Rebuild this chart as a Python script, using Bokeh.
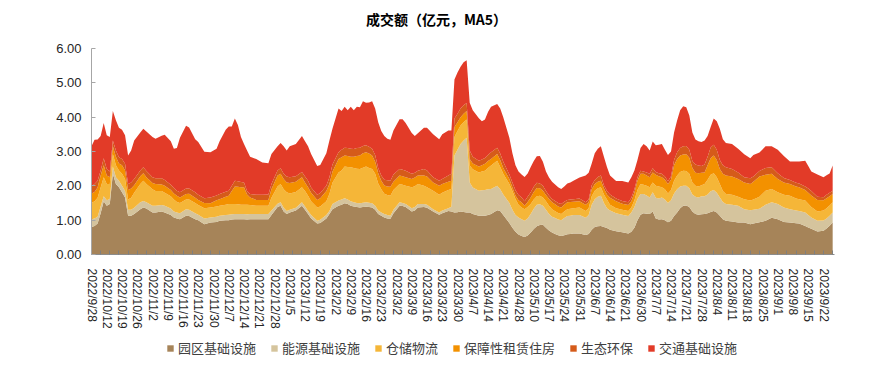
from bokeh.plotting import figure
from bokeh.layouts import column
from bokeh.models import (ColumnDataSource, FixedTicker, Range1d, Legend, LegendItem,
                          NumeralTickFormatter, Label)
from bokeh.embed import file_html
from bokeh.resources import INLINE

# ---------------- data ----------------
date_labels = ["2022/9/28", "2022/10/12", "2022/10/19", "2022/10/26", "2022/11/2", "2022/11/9",
               "2022/11/16", "2022/11/23", "2022/11/30", "2022/12/7", "2022/12/14", "2022/12/21",
               "2022/12/28", "2023/1/5", "2023/1/12", "2023/1/19", "2023/2/2", "2023/2/9",
               "2023/2/16", "2023/2/23", "2023/3/2", "2023/3/9", "2023/3/16", "2023/3/23",
               "2023/3/30", "2023/4/7", "2023/4/14", "2023/4/21", "2023/4/28", "2023/5/10",
               "2023/5/17", "2023/5/24", "2023/5/31", "2023/6/7", "2023/6/14", "2023/6/21",
               "2023/6/30", "2023/7/7", "2023/7/14", "2023/7/21", "2023/7/28", "2023/8/4",
               "2023/8/11", "2023/8/18", "2023/8/25", "2023/9/1", "2023/9/8", "2023/9/15",
               "2023/9/22"]
label_every = 5          # one label per 5 trading days
tick_every = 3           # small tick marks every 3 trading days
n_days = 244             # trading days shown

# trading-day index of each sample
day = [0, 1, 2, 3, 4, 5, 6, 7, 8, 9, 10, 11, 12, 13, 14, 16, 17, 18, 20, 21, 23, 24, 26, 27, 28, 29,
       31, 32, 34, 35, 37, 39, 41, 42, 44, 45, 46, 47, 48, 49, 50, 51, 52, 54, 56, 58, 59, 61, 62,
       63, 64, 65, 67, 69, 70, 71, 72, 74, 75, 77, 78, 79, 81, 82, 83, 84, 85, 86, 87, 88, 89, 90,
       91, 92, 93, 94, 95, 96, 97, 98, 99, 101, 102, 103, 105, 106, 107, 109, 110, 112, 114, 115,
       117, 118, 119, 120, 121, 122, 123, 124, 125, 127, 128, 129, 130, 131, 133, 134, 135, 137,
       138, 139, 140, 141, 142, 143, 144, 145, 146, 147, 148, 149, 150, 151, 152, 153, 154, 155,
       156, 157, 158, 160, 162, 163, 164, 165, 166, 167, 168, 169, 170, 172, 174, 176, 177, 178,
       179, 180, 181, 182, 183, 184, 185, 186, 187, 188, 189, 190, 191, 192, 193, 194, 195, 196,
       197, 198, 199, 200, 201, 202, 203, 204, 205, 206, 207, 208, 210, 212, 214, 216, 217, 219,
       221, 223, 225, 227, 229, 231, 232, 234, 235, 236, 238, 240, 241, 242, 243]

park = [0.80, 0.83, 0.90, 1.20, 1.55, 1.42, 1.47, 2.35, 2.05, 1.96, 1.81, 1.66, 1.13, 1.13, 1.18, 1.32,
        1.37, 1.34, 1.22, 1.22, 1.25, 1.22, 1.15, 1.08, 1.05, 1.03, 1.13, 1.12, 1.03, 1.00, 0.88, 0.93,
        0.95, 0.98, 1.00, 1.00, 1.02, 1.03, 1.03, 1.03, 1.03, 1.02, 1.03, 1.03, 1.03, 1.03, 1.15, 1.38,
        1.42, 1.25, 1.18, 1.22, 1.28, 1.42, 1.30, 1.18, 1.05, 0.90, 0.92, 1.05, 1.18, 1.32, 1.42, 1.45,
        1.49, 1.47, 1.42, 1.40, 1.38, 1.37, 1.38, 1.39, 1.38, 1.37, 1.30, 1.18, 1.13, 1.08, 1.05, 1.04,
        1.20, 1.42, 1.41, 1.38, 1.25, 1.28, 1.37, 1.38, 1.36, 1.25, 1.16, 1.20, 1.27, 1.25, 1.22, 1.23,
        1.25, 1.24, 1.22, 1.22, 1.18, 1.13, 1.13, 1.13, 1.15, 1.18, 1.29, 1.27, 1.15, 0.92, 0.78, 0.66,
        0.58, 0.54, 0.51, 0.55, 0.64, 0.74, 0.82, 0.86, 0.87, 0.78, 0.70, 0.64, 0.60, 0.56, 0.54, 0.56,
        0.59, 0.60, 0.61, 0.61, 0.57, 0.60, 0.72, 0.80, 0.82, 0.83, 0.80, 0.77, 0.72, 0.68, 0.65, 0.61,
        0.66, 0.78, 1.00, 1.16, 1.20, 1.19, 1.18, 1.25, 1.05, 1.02, 1.03, 1.00, 0.94, 0.98, 1.12, 1.22,
        1.35, 1.42, 1.43, 1.38, 1.25, 1.18, 1.16, 1.17, 1.18, 1.20, 1.24, 1.27, 1.22, 1.13, 1.03, 0.98,
        0.96, 0.93, 0.93, 0.88, 0.90, 0.94, 0.98, 1.07, 1.03, 0.95, 0.93, 0.91, 0.90, 0.83, 0.79, 0.75,
        0.67, 0.69, 0.76, 0.84, 0.93]

energy = [0.23, 0.22, 0.20, 0.20, 0.15, 0.16, 0.15, 0.21, 0.20, 0.19, 0.19, 0.19, 0.17, 0.17, 0.18, 0.20,
          0.19, 0.18, 0.20, 0.20, 0.19, 0.20, 0.19, 0.17, 0.17, 0.17, 0.19, 0.18, 0.17, 0.16, 0.17, 0.15,
          0.15, 0.15, 0.15, 0.16, 0.15, 0.15, 0.15, 0.15, 0.15, 0.15, 0.15, 0.15, 0.15, 0.15, 0.13, 0.10,
          0.10, 0.11, 0.09, 0.08, 0.08, 0.10, 0.10, 0.09, 0.10, 0.08, 0.09, 0.10, 0.09, 0.15, 0.15, 0.15,
          0.15, 0.13, 0.13, 0.12, 0.12, 0.12, 0.13, 0.13, 0.13, 0.12, 0.12, 0.10, 0.09, 0.10, 0.10, 0.09,
          0.10, 0.10, 0.09, 0.09, 0.10, 0.10, 0.10, 0.09, 0.09, 0.07, 0.06, 0.08, 0.08, 0.14, 1.66, 1.82,
          1.97, 2.08, 2.18, 0.88, 0.77, 0.73, 0.74, 0.75, 0.75, 0.73, 0.71, 0.63, 0.60, 0.58, 0.52, 0.49,
          0.50, 0.49, 0.47, 0.50, 0.54, 0.59, 0.63, 0.60, 0.55, 0.52, 0.48, 0.46, 0.46, 0.46, 0.46, 0.50,
          0.53, 0.53, 0.54, 0.54, 0.50, 0.55, 0.73, 0.81, 0.86, 0.88, 0.70, 0.58, 0.56, 0.52, 0.51, 0.51,
          0.56, 0.60, 0.62, 0.60, 0.56, 0.53, 0.48, 0.56, 0.60, 0.61, 0.63, 0.60, 0.56, 0.60, 0.66, 0.68,
          0.63, 0.58, 0.57, 0.55, 0.50, 0.50, 0.50, 0.53, 0.52, 0.55, 0.60, 0.61, 0.58, 0.53, 0.50, 0.49,
          0.49, 0.49, 0.39, 0.41, 0.40, 0.39, 0.47, 0.45, 0.44, 0.42, 0.39, 0.37, 0.37, 0.39, 0.36, 0.33,
          0.31, 0.30, 0.29, 0.29, 0.29]

logistics = [0.47, 0.50, 0.55, 0.55, 0.55, 0.47, 0.43, 0.37, 0.35, 0.30, 0.35, 0.35, 0.30, 0.35, 0.44, 0.53,
             0.59, 0.53, 0.48, 0.43, 0.41, 0.38, 0.36, 0.35, 0.31, 0.30, 0.28, 0.30, 0.30, 0.28, 0.30, 0.29,
             0.30, 0.29, 0.30, 0.31, 0.30, 0.29, 0.28, 0.27, 0.27, 0.28, 0.26, 0.24, 0.24, 0.24, 0.37, 0.50,
             0.53, 0.54, 0.54, 0.48, 0.46, 0.44, 0.45, 0.44, 0.40, 0.39, 0.39, 0.40, 0.49, 0.62, 0.82, 0.85,
             0.92, 0.95, 0.99, 1.00, 1.00, 1.00, 1.02, 1.04, 1.01, 1.00, 0.93, 0.79, 0.68, 0.59, 0.58, 0.58,
             0.58, 0.53, 0.53, 0.53, 0.61, 0.61, 0.58, 0.53, 0.51, 0.54, 0.52, 0.52, 0.53, 0.52, 0.54, 0.55,
             0.54, 0.53, 0.53, 0.49, 0.53, 0.53, 0.55, 0.56, 0.62, 0.68, 0.73, 0.65, 0.60, 0.55, 0.55, 0.47,
             0.37, 0.34, 0.34, 0.33, 0.29, 0.27, 0.25, 0.25, 0.24, 0.25, 0.24, 0.22, 0.20, 0.19, 0.18, 0.19,
             0.20, 0.20, 0.20, 0.22, 0.20, 0.20, 0.25, 0.25, 0.25, 0.25, 0.25, 0.25, 0.17, 0.15, 0.14, 0.15,
             0.15, 0.20, 0.26, 0.29, 0.27, 0.28, 0.30, 0.29, 0.35, 0.35, 0.30, 0.30, 0.28, 0.30, 0.37, 0.40,
             0.42, 0.44, 0.43, 0.42, 0.35, 0.32, 0.32, 0.32, 0.35, 0.43, 0.48, 0.49, 0.45, 0.39, 0.32, 0.29,
             0.29, 0.26, 0.29, 0.28, 0.30, 0.35, 0.41, 0.39, 0.34, 0.37, 0.39, 0.35, 0.34, 0.35, 0.33, 0.30,
             0.27, 0.29, 0.30, 0.30, 0.30]

housing = [0.28, 0.27, 0.30, 0.35, 0.35, 0.25, 0.20, 0.22, 0.25, 0.20, 0.25, 0.25, 0.28, 0.27, 0.22, 0.23,
           0.22, 0.20, 0.18, 0.20, 0.19, 0.20, 0.18, 0.18, 0.18, 0.16, 0.16, 0.17, 0.15, 0.15, 0.15, 0.12,
           0.18, 0.19, 0.23, 0.24, 0.38, 0.51, 0.51, 0.51, 0.51, 0.30, 0.22, 0.17, 0.17, 0.17, 0.25, 0.32,
           0.30, 0.30, 0.29, 0.30, 0.30, 0.29, 0.25, 0.25, 0.25, 0.22, 0.24, 0.30, 0.29, 0.32, 0.39, 0.38,
           0.32, 0.32, 0.31, 0.33, 0.37, 0.39, 0.42, 0.42, 0.42, 0.39, 0.35, 0.30, 0.25, 0.24, 0.25, 0.26,
           0.24, 0.25, 0.25, 0.25, 0.24, 0.25, 0.25, 0.30, 0.31, 0.24, 0.26, 0.25, 0.24, 0.24, 0.29, 0.25,
           0.24, 0.25, 0.25, 0.19, 0.17, 0.17, 0.18, 0.20, 0.20, 0.19, 0.20, 0.20, 0.17, 0.15, 0.10, 0.10,
           0.13, 0.15, 0.10, 0.15, 0.19, 0.22, 0.24, 0.22, 0.20, 0.18, 0.20, 0.20, 0.20, 0.19, 0.19, 0.20,
           0.20, 0.20, 0.19, 0.18, 0.18, 0.17, 0.20, 0.19, 0.19, 0.19, 0.17, 0.15, 0.20, 0.20, 0.18, 0.17,
           0.18, 0.22, 0.27, 0.30, 0.32, 0.30, 0.29, 0.29, 0.32, 0.30, 0.29, 0.28, 0.27, 0.30, 0.45, 0.48,
           0.48, 0.47, 0.49, 0.47, 0.42, 0.38, 0.39, 0.36, 0.34, 0.42, 0.48, 0.51, 0.50, 0.44, 0.50, 0.54,
           0.53, 0.52, 0.49, 0.48, 0.52, 0.59, 0.46, 0.44, 0.39, 0.36, 0.34, 0.35, 0.35, 0.31, 0.32, 0.34,
           0.34, 0.30, 0.29, 0.27, 0.24]

eco = [0.21, 0.23, 0.20, 0.15, 0.20, 0.19, 0.17, 0.17, 0.18, 0.18, 0.18, 0.19, 0.17, 0.18, 0.18, 0.17,
       0.17, 0.18, 0.17, 0.17, 0.18, 0.17, 0.15, 0.16, 0.15, 0.15, 0.16, 0.15, 0.16, 0.15, 0.14, 0.17,
       0.14, 0.15, 0.15, 0.15, 0.15, 0.17, 0.16, 0.15, 0.14, 0.10, 0.10, 0.15, 0.15, 0.16, 0.15, 0.15,
       0.16, 0.15, 0.17, 0.17, 0.16, 0.15, 0.17, 0.19, 0.15, 0.15, 0.15, 0.15, 0.20, 0.21, 0.20, 0.22,
       0.23, 0.23, 0.23, 0.22, 0.23, 0.23, 0.21, 0.20, 0.20, 0.20, 0.20, 0.15, 0.15, 0.17, 0.18, 0.18,
       0.21, 0.19, 0.19, 0.19, 0.15, 0.14, 0.14, 0.19, 0.18, 0.15, 0.15, 0.15, 0.18, 0.20, 0.25, 0.25,
       0.25, 0.25, 0.23, 0.25, 0.20, 0.17, 0.17, 0.17, 0.18, 0.20, 0.18, 0.19, 0.18, 0.13, 0.15, 0.15,
       0.15, 0.14, 0.13, 0.15, 0.15, 0.15, 0.15, 0.14, 0.14, 0.12, 0.10, 0.10, 0.10, 0.10, 0.10, 0.09,
       0.07, 0.07, 0.07, 0.08, 0.07, 0.08, 0.12, 0.12, 0.14, 0.15, 0.10, 0.10, 0.10, 0.08, 0.08, 0.08,
       0.10, 0.10, 0.10, 0.09, 0.07, 0.09, 0.10, 0.12, 0.08, 0.09, 0.10, 0.09, 0.08, 0.10, 0.15, 0.20,
       0.22, 0.24, 0.24, 0.23, 0.20, 0.24, 0.22, 0.20, 0.23, 0.25, 0.32, 0.32, 0.30, 0.26, 0.25, 0.24,
       0.22, 0.19, 0.15, 0.17, 0.15, 0.16, 0.20, 0.19, 0.17, 0.13, 0.12, 0.11, 0.11, 0.10, 0.12, 0.13,
       0.09, 0.09, 0.10, 0.10, 0.10]

transport = [1.16, 1.29, 1.20, 1.00, 1.03, 0.98, 1.00, 0.86, 0.88, 0.86, 0.85, 0.83, 0.83, 0.93, 1.12, 1.10,
             1.12, 1.15, 1.17, 1.15, 1.24, 1.32, 1.27, 1.14, 1.24, 1.59, 1.83, 1.78, 1.55, 1.54, 1.35, 1.32,
             1.36, 1.54, 1.80, 1.87, 1.73, 1.81, 1.64, 1.31, 1.12, 1.18, 1.09, 1.04, 0.94, 0.91, 0.88, 0.70,
             0.74, 0.80, 0.76, 0.90, 0.94, 1.05, 1.03, 1.00, 0.98, 0.84, 0.82, 0.95, 1.07, 1.04, 1.27, 1.13,
             1.19, 1.10, 1.22, 1.13, 1.20, 1.18, 1.30, 1.24, 1.29, 1.38, 1.35, 1.33, 1.30, 1.27, 1.21, 1.19,
             1.28, 1.45, 1.47, 1.39, 1.19, 1.07, 1.09, 1.20, 1.24, 1.25, 1.21, 1.30, 1.31, 1.26, 1.14, 1.20,
             1.22, 1.25, 1.25, 1.39, 1.35, 1.24, 1.11, 1.12, 1.25, 1.32, 1.27, 1.31, 1.30, 1.07, 0.85, 0.73,
             0.69, 0.67, 0.71, 0.68, 0.74, 0.75, 0.77, 0.80, 0.70, 0.57, 0.52, 0.50, 0.48, 0.46, 0.44, 0.44,
             0.48, 0.50, 0.54, 0.61, 0.78, 0.78, 0.63, 0.78, 0.82, 0.85, 0.83, 0.70, 0.55, 0.51, 0.58, 0.58,
             0.60, 0.55, 0.50, 0.66, 0.80, 0.76, 0.68, 0.78, 0.78, 0.83, 0.87, 0.78, 0.77, 0.72, 0.80, 0.92,
             1.10, 1.17, 1.13, 1.00, 0.83, 0.73, 0.71, 0.70, 0.70, 0.60, 0.59, 0.76, 0.83, 0.91, 0.76, 0.71,
             0.73, 0.69, 0.67, 0.58, 0.63, 0.54, 0.63, 0.61, 0.68, 0.64, 0.54, 0.62, 0.64, 0.75, 0.66, 0.57,
             0.65, 0.58, 0.57, 0.56, 0.73]

series_keys = ["park", "energy", "logistics", "housing", "eco", "transport"]
series_names = ["园区基础设施", "能源基础设施", "仓储物流", "保障性租赁住房", "生态环保", "交通基础设施"]
series_colors = ["#A68459", "#D5C49D", "#F5B638", "#F39100", "#D55B1A", "#E23B28"]
title_text = "成交额（亿元，MA5）"

source = ColumnDataSource(dict(day=day, park=park, energy=energy, logistics=logistics,
                               housing=housing, eco=eco, transport=transport))


def strip(height):
    f = figure(width=870, height=height, output_backend="svg", toolbar_location=None,
               x_axis_location=None, y_axis_location=None,
               x_range=Range1d(0, n_days - 0.4), y_range=Range1d(100, 101),
               min_border=0, min_border_left=0, min_border_right=0,
               min_border_top=0, min_border_bottom=0)
    f.outline_line_color = None
    f.xgrid.visible = False
    f.ygrid.visible = False
    f.background_fill_color = "white"
    f.border_fill_color = "white"
    return f


# ---------------- title strip ----------------
t = strip(30)
t.add_layout(Label(x=345, y=12, x_units="screen", y_units="screen", text=title_text,
                   text_align="center", text_baseline="middle", text_font="Noto Sans CJK SC",
                   text_font_style="bold", text_font_size="14px", text_color="#000000"))

# ---------------- main chart ----------------
p = figure(width=870, height=308, output_backend="svg", toolbar_location=None,
           x_range=Range1d(0, n_days - 0.4), y_range=Range1d(0, 6),
           min_border_left=91, min_border_right=36, min_border_top=18, min_border_bottom=84)
p.outline_line_color = None
p.xgrid.visible = False
p.ygrid.visible = False
p.background_fill_color = "white"
p.border_fill_color = "white"

p.varea_stack(stackers=series_keys, x="day", color=series_colors, source=source)

p.yaxis.ticker = FixedTicker(ticks=[0, 1, 2, 3, 4, 5, 6])
p.yaxis.formatter = NumeralTickFormatter(format="0.00")
p.yaxis.axis_line_color = "#A6A6A6"
p.yaxis.major_tick_line_color = "#A6A6A6"
p.yaxis.major_tick_in = 4
p.yaxis.major_tick_out = 0
p.yaxis.minor_tick_line_color = None
p.yaxis.major_label_text_font = "Liberation Sans"
p.yaxis.major_label_text_font_size = "13px"
p.yaxis.major_label_text_color = "#262626"
p.yaxis.major_label_standoff = 10

tick_pos = [i * label_every for i in range(len(date_labels))]
p.xaxis.ticker = FixedTicker(ticks=tick_pos, minor_ticks=list(range(0, n_days, tick_every)))
p.xaxis.major_label_overrides = {tp: lab for tp, lab in zip(tick_pos, date_labels)}
p.xaxis.major_label_orientation = "vertical"
p.xaxis.axis_line_color = "#8C8C8C"
p.xaxis.major_tick_line_color = None
p.xaxis.minor_tick_line_color = "#7F7F7F"
p.xaxis.minor_tick_in = 4
p.xaxis.minor_tick_out = 0
p.xaxis.major_label_text_font = "Liberation Sans"
p.xaxis.major_label_text_font_size = "12px"
p.xaxis.major_label_text_color = "#262626"
p.xaxis.major_label_standoff = 8

# ---------------- legend strip ----------------
q = strip(44)
legend_renderers = q.varea_stack(stackers=series_keys, x="day", color=series_colors, source=source)
items = [LegendItem(label=n, renderers=[r]) for n, r in zip(series_names, legend_renderers)]
legend = Legend(items=items, orientation="horizontal", location=(75, 25),
                glyph_width=8, glyph_height=8, label_standoff=4, spacing=14,
                padding=0, margin=0, border_line_color=None, background_fill_alpha=0,
                label_text_font="Noto Sans CJK SC", label_text_font_size="13px",
                label_text_color="#404040", label_height=16)
q.add_layout(legend, "center")

layout = column(t, p, q, spacing=0)
open("out.html", "w").write(file_html(layout, INLINE))
